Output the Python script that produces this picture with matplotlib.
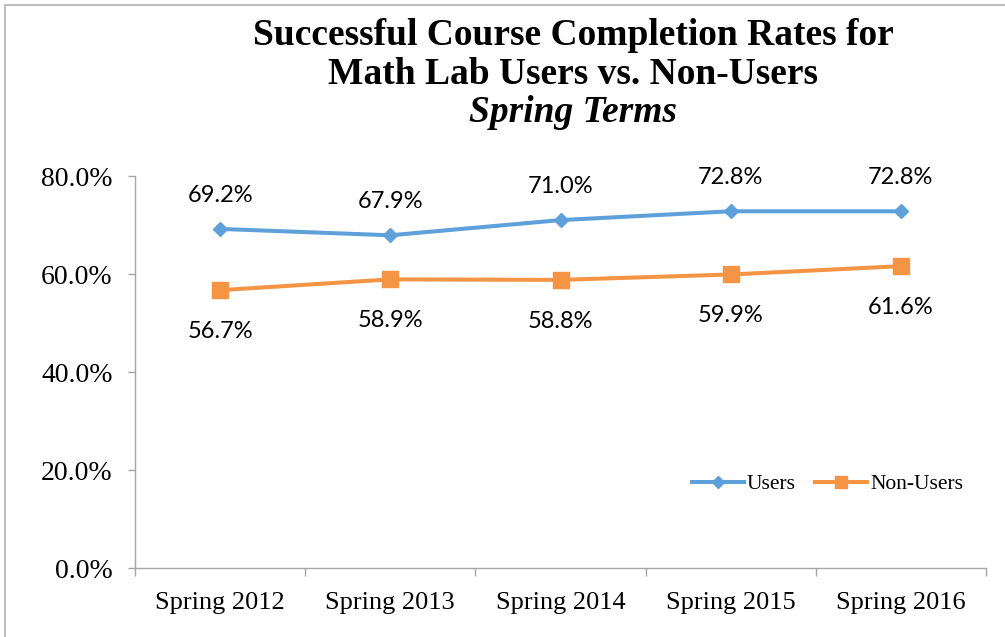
import matplotlib as mpl
mpl.use('Agg')
import matplotlib.pyplot as plt
from matplotlib.lines import Line2D

# data
terms = ["Spring 2012", "Spring 2013", "Spring 2014", "Spring 2015", "Spring 2016"]
users = [69.2, 67.9, 71.0, 72.8, 72.8]
non_users = [56.7, 58.9, 58.8, 59.9, 61.6]
yticks = [0, 20, 40, 60, 80]

blue = '#5DA0DA'
orange = '#F59445'
axis_gray = '#A6A6A6'
serif = 'Liberation Serif'
label_font = 'Lato'

W, H = 1005, 637
fig = plt.figure(figsize=(W / 100, H / 100), dpi=100)
ax = fig.add_axes([135 / W, 1 - 568 / H, (986 - 135) / W, (568 - 176) / H])

x = list(range(len(terms)))
ax.plot(x, users, color=blue, lw=2.9, marker='D', ms=7.5, label='Users', zorder=3)
ax.plot(x, non_users, color=orange, lw=2.9, marker='s', ms=11, label='Non-Users', zorder=3)

# data labels
for i, v in enumerate(users):
    ax.annotate(f"{v:.1f}%", (i, v), xytext=(0, 19.5), textcoords='offset points',
                ha='center', va='baseline', fontsize=17, family=label_font)
for i, v in enumerate(non_users):
    ax.annotate(f"{v:.1f}%", (i, v), xytext=(0, -34.5), textcoords='offset points',
                ha='center', va='baseline', fontsize=17, family=label_font)

ax.set_xlim(-0.5, len(terms) - 0.5)
ax.set_ylim(0, 80)
ax.set_yticks(yticks)
ax.set_yticklabels([f"{t:.1f}%" for t in yticks], family=serif, fontsize=20)
ax.set_xticks(x)
ax.set_xticklabels(terms, family=serif, fontsize=19)
ax.set_xticks([i - 0.5 for i in range(len(terms) + 1)], minor=True)
ax.tick_params(axis='x', which='major', length=0, pad=17)
ax.tick_params(axis='x', which='minor', length=6, color=axis_gray, width=1)
ax.tick_params(axis='y', length=5, color=axis_gray, width=1, pad=11)

for s in ['top', 'right']:
    ax.spines[s].set_visible(False)
for s in ['left', 'bottom']:
    ax.spines[s].set_color(axis_gray)
    ax.spines[s].set_linewidth(1)

# legend
fig.legend(loc='center left', bbox_to_anchor=(692 / W, 1 - 484 / H), ncol=2, frameon=False,
           prop={'family': serif, 'size': 15.5}, handlelength=2.4, handletextpad=0.15,
           columnspacing=0.9, borderpad=0, borderaxespad=0, markerscale=0.75)

# title
cx = 573 / W
fig.text(cx, 1 - 45 / H, "Successful Course Completion Rates for", ha='center', va='baseline',
         family=serif, weight='bold', fontsize=27)
fig.text(cx, 1 - 84 / H, "Math Lab Users vs. Non-Users", ha='center', va='baseline',
         family=serif, weight='bold', fontsize=27)
fig.text(cx, 1 - 122 / H, "Spring Terms", ha='center', va='baseline',
         family=serif, weight='bold', style='italic', fontsize=27)

# chart border (top and left visible)
fig.add_artist(Line2D([5 / W, 1], [1 - 5 / H, 1 - 5 / H], transform=fig.transFigure,
                      color='#BFBFBF', lw=1.5))
fig.add_artist(Line2D([5 / W, 5 / W], [0, 1 - 5 / H], transform=fig.transFigure,
                      color='#BFBFBF', lw=1.5))

fig.savefig('out.png', dpi=100)
